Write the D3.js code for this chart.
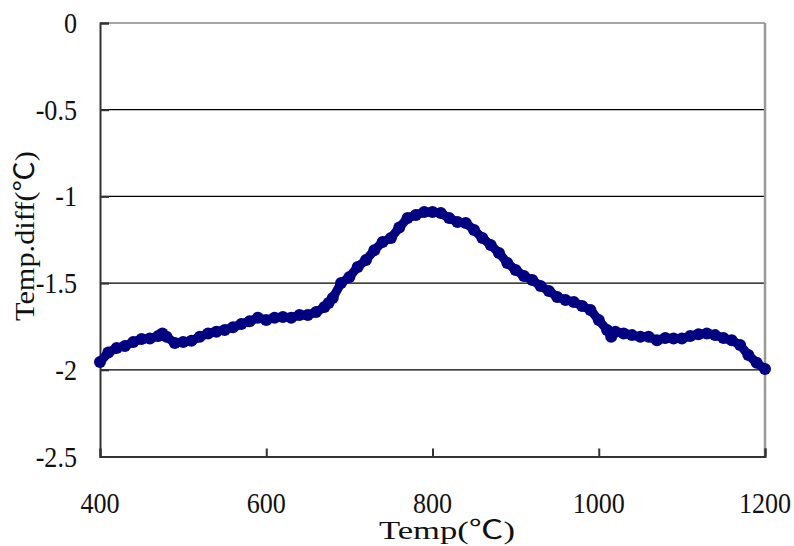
<!DOCTYPE html>
<html>
<head>
<meta charset="utf-8">
<script src="https://cdn.jsdelivr.net/npm/d3@7"></script>
<style>
  body { margin: 0; background: #fff; }
  svg { display: block; }
  text { font-family: "Liberation Serif", "Times New Roman", serif; fill: #111; }
  .cjk { font-family: "Noto Sans CJK TC", "Noto Sans CJK SC", serif; }
</style>
</head>
<body>
<svg id="canvas" width="794" height="546"></svg>
<script>
'use strict';

/* temperatures (deg C) */
var temps = [400, 410, 420, 430, 440, 450, 460, 470, 475, 480, 490, 500, 510, 520, 530, 540,
  550, 560, 570, 580, 590, 600, 610, 620, 630, 640, 650, 660, 670, 675, 680, 690,
  700, 710, 720, 730, 740, 750, 760, 770, 780, 790, 800, 810, 820, 830, 840, 850,
  860, 870, 880, 890, 900, 910, 920, 930, 940, 950, 960, 970, 980, 990, 1000, 1010,
  1015, 1020, 1030, 1040, 1050, 1060, 1070, 1080, 1090, 1100, 1110, 1120, 1130, 1140,
  1150, 1160, 1170, 1180, 1190, 1200];

/* temperature difference (deg C) at each temperature */
var diffs = [-1.955, -1.90, -1.874, -1.863, -1.84, -1.822, -1.82, -1.805, -1.79, -1.81, -1.845, -1.84, -1.833, -1.81, -1.79, -1.78,
  -1.77, -1.755, -1.736, -1.72, -1.70, -1.713, -1.70, -1.695, -1.70, -1.684, -1.684, -1.667, -1.638, -1.615, -1.586, -1.50,
  -1.465, -1.407, -1.367, -1.31, -1.263, -1.24, -1.18, -1.125, -1.107, -1.09, -1.09, -1.096, -1.125, -1.148, -1.153, -1.194,
  -1.24, -1.28, -1.326, -1.384, -1.424, -1.459, -1.482, -1.517, -1.545, -1.58, -1.597, -1.609, -1.632, -1.655, -1.713, -1.77,
  -1.81, -1.78, -1.79, -1.80, -1.81, -1.81, -1.83, -1.816, -1.82, -1.82, -1.805, -1.795, -1.79, -1.80,
  -1.817, -1.83, -1.857, -1.915, -1.96, -1.995];

var xTicks = [400, 600, 800, 1000, 1200];
var yTicks = [0, -0.5, -1, -1.5, -2, -2.5];

var points = temps.map(function(t, i){ return { t: t, v: diffs[i] }; });

var svg = d3.select('#canvas');
var padLeft = 100, padRight = 765, padTop = 23, padBottom = 456.5;

var x = d3.scaleLinear().domain([400, 1200]).range([padLeft, padRight]);
var y = d3.scaleLinear().domain([-2.5, 0]).range([padBottom, padTop]);

/* horizontal grid lines */
svg.append('g')
  .selectAll('line')
  .data(yTicks.filter(function(d){ return d < 0 && d > -2.5; }))
  .enter().append('line')
    .attr('x1', padLeft).attr('x2', padRight)
    .attr('y1', function(d){ return y(d); })
    .attr('y2', function(d){ return y(d); })
    .attr('stroke', '#000').attr('stroke-width', 1.2);

/* top and right frame, gray */
svg.append('line')
  .attr('x1', padLeft).attr('x2', padRight).attr('y1', padTop).attr('y2', padTop)
  .attr('stroke', '#888').attr('stroke-width', 1.5);
svg.append('line')
  .attr('x1', padRight).attr('x2', padRight).attr('y1', padTop).attr('y2', padBottom)
  .attr('stroke', '#999').attr('stroke-width', 2.5);

/* left axis, ticks pointing inward */
var yAxis = d3.axisRight(y).tickValues(yTicks).tickSize(9).tickFormat('');
var gy = svg.append('g')
  .attr('transform', 'translate(' + padLeft + ',0)')
  .call(yAxis);
gy.select('.domain').attr('stroke', '#333').attr('stroke-width', 2);
gy.selectAll('.tick line').attr('stroke', '#333').attr('stroke-width', 2);

svg.append('g')
  .selectAll('text')
  .data(yTicks)
  .enter().append('text')
    .attr('text-anchor', 'end')
    .style('font-size', '29px')
    .attr('transform', function(d){ return 'translate(77,' + (y(d) + 10) + ') scale(0.9,1)'; })
    .text(function(d){ return d; });

/* bottom axis, ticks pointing inward */
var xAxis = d3.axisTop(x).tickValues(xTicks).tickSize(8).tickFormat('');
var gx = svg.append('g')
  .attr('transform', 'translate(0,' + padBottom + ')')
  .call(xAxis);
gx.select('.domain').attr('stroke', '#333').attr('stroke-width', 2);
gx.selectAll('.tick line').attr('stroke', '#333').attr('stroke-width', 2);

svg.append('g')
  .selectAll('text')
  .data(xTicks)
  .enter().append('text')
    .attr('text-anchor', 'middle')
    .style('font-size', '29px')
    .attr('transform', function(d){ return 'translate(' + x(d) + ',513) scale(0.9,1)'; })
    .text(function(d){ return d; });

/* axis titles */
var xTitle = svg.append('text')
  .attr('text-anchor', 'middle')
  .style('font-size', '26px')
  .attr('transform', 'translate(447,539)')
  .attr('textLength', 136)
  .attr('lengthAdjust', 'spacingAndGlyphs');
xTitle.append('tspan').text('Temp(');
xTitle.append('tspan').attr('class', 'cjk').text('℃');
xTitle.append('tspan').text(')');

var yTitle = svg.append('text')
  .attr('text-anchor', 'middle')
  .style('font-size', '27px')
  .attr('transform', 'translate(34,236) rotate(-90)')
  .attr('textLength', 170)
  .attr('lengthAdjust', 'spacingAndGlyphs');
yTitle.append('tspan').text('Temp.diff(');
yTitle.append('tspan').attr('class', 'cjk').text('℃');
yTitle.append('tspan').text(')');

/* the series: thick line plus round markers */
var line = d3.line()
  .x(function(d){ return x(d.t); })
  .y(function(d){ return y(d.v); });

svg.append('path')
  .datum(points)
  .attr('d', line)
  .attr('fill', 'none')
  .attr('stroke', '#000080')
  .attr('stroke-width', 9)
  .attr('stroke-linejoin', 'round');

svg.append('g')
  .selectAll('circle')
  .data(points)
  .enter().append('circle')
    .attr('cx', function(d){ return x(d.t); })
    .attr('cy', function(d){ return y(d.v); })
    .attr('r', 6)
    .attr('fill', '#000080');
</script>
</body>
</html>
